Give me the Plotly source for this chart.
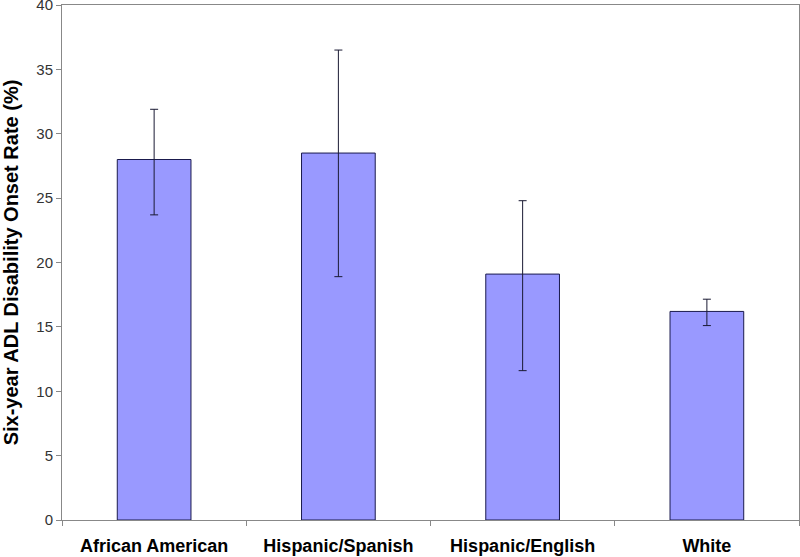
import plotly.graph_objects as go

categories = ["African American", "Hispanic/Spanish", "Hispanic/English", "White"]
rates = [28.0, 28.5, 19.1, 16.2]
upper = [31.9, 36.5, 24.8, 17.15]
lower = [23.7, 18.9, 11.6, 15.1]
y_ticks = [0, 5, 10, 15, 20, 25, 30, 35, 40]

err_plus = [u - r for u, r in zip(upper, rates)]
err_minus = [r - l for r, l in zip(rates, lower)]

fig = go.Figure(go.Bar(
    x=categories, y=rates,
    marker=dict(color="#9999FF", line=dict(color="#1a1a4d", width=1)),
    width=0.4,
    error_y=dict(type="data", symmetric=False, array=err_plus, arrayminus=err_minus,
                 color="#1a1a33", thickness=1, width=4),
))

fig.update_layout(
    width=800, height=557,
    margin=dict(l=62, r=1, t=5, b=37),
    paper_bgcolor="white", plot_bgcolor="white",
    font=dict(family="Liberation Sans, Arial, sans-serif", color="black"),
    showlegend=False,
)
fig.update_xaxes(
    automargin=False,
    showline=True, linecolor="#888888", linewidth=1, mirror=True,
    ticks="outside", tickson="boundaries", ticklen=5, tickcolor="#888888",
    tickfont=dict(size=18, family="Liberation Sans, Arial, sans-serif", color="black"),
    tickprefix="<b>", ticksuffix="</b>",
    ticklabelstandoff=9,
)
fig.update_yaxes(
    automargin=False,
    range=[0, 40], tickvals=y_ticks, showgrid=False, zeroline=False,
    showline=True, linecolor="#888888", linewidth=1, mirror=True,
    ticks="outside", ticklen=5, tickcolor="#888888",
    tickfont=dict(size=15, color="#333333"),
    ticklabeloverflow="allow",
    title=dict(text="<b>Six-year ADL Disability Onset Rate (%)</b>", font=dict(size=20), standoff=12),
)

fig.write_html("out.html", config={"displayModeBar": False},
               post_script="document.body.style.margin='0';")
